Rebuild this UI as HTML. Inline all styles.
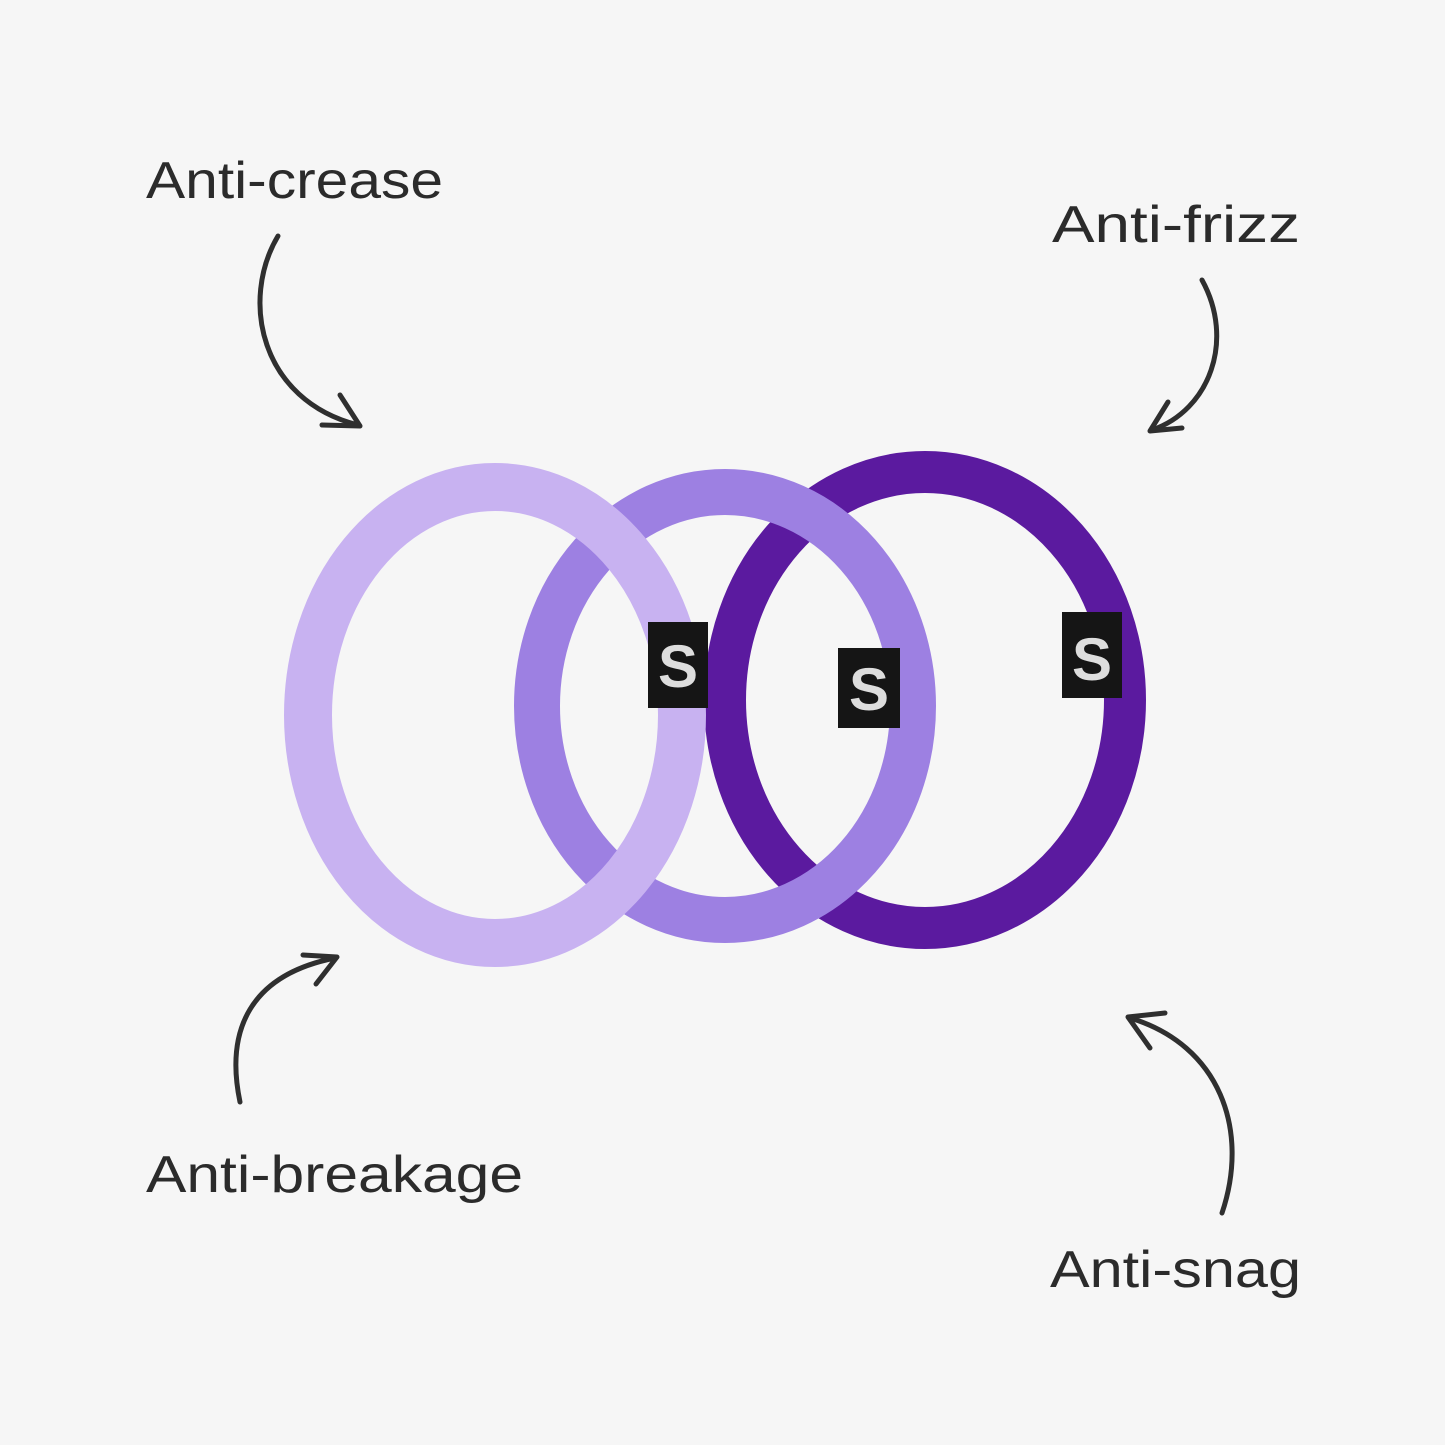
<!DOCTYPE html>
<html><head><meta charset="utf-8"><style>
html,body{margin:0;padding:0;background:#f6f6f6;}
svg{display:block;}
text{font-family:"Liberation Sans",sans-serif;fill:#2b2b2b;font-size:52px;}
</style></head><body>
<svg width="1445" height="1445" viewBox="0 0 1445 1445">
<rect width="1445" height="1445" fill="#f6f6f6"/>
<text x="146" y="198" textLength="297" lengthAdjust="spacingAndGlyphs">Anti-crease</text>
<text x="1052" y="242" textLength="248" lengthAdjust="spacingAndGlyphs">Anti-frizz</text>
<text x="146" y="1192" textLength="377" lengthAdjust="spacingAndGlyphs">Anti-breakage</text>
<text x="1050" y="1287" textLength="251" lengthAdjust="spacingAndGlyphs">Anti-snag</text>
<g fill="none" stroke="#2f2f2f" stroke-width="5" stroke-linecap="round" stroke-linejoin="round">
<path d="M278 236 C240 300 260 400 358 425"/><path d="M322 425 L360 426 L340 395"/>
<path d="M1202 280 C1235 340 1210 410 1152 430"/><path d="M1150 431 L1182 428 M1150 431 L1168 402"/>
<path d="M240 1102 C225 1030 250 975 335 958"/><path d="M337 957 L303 955 M337 957 L316 984"/>
<path d="M1222 1213 C1250 1130 1220 1045 1130 1018"/><path d="M1128 1017 L1165 1013 M1128 1017 L1150 1048"/>
</g>
<g fill="none">
<ellipse cx="925" cy="700" rx="200" ry="228" stroke="#5b1a9f" stroke-width="42"/>
<ellipse cx="725" cy="706" rx="188" ry="214" stroke="#9d80e2" stroke-width="46"/>
<ellipse cx="495" cy="715" rx="187" ry="228" stroke="#c8b2f1" stroke-width="48"/>
</g>
<g>
<rect x="648" y="622" width="60" height="86" fill="#151515"/>
<text x="678" y="687" text-anchor="middle" style="font-size:60px;font-weight:bold;fill:#ddd">S</text>
<rect x="838" y="648" width="62" height="80" fill="#151515"/>
<text x="869" y="710" text-anchor="middle" style="font-size:60px;font-weight:bold;fill:#ddd">S</text>
<rect x="1062" y="612" width="60" height="86" fill="#151515"/>
<text x="1092" y="680" text-anchor="middle" style="font-size:60px;font-weight:bold;fill:#ddd">S</text>
</g>
</svg>
</body></html>
